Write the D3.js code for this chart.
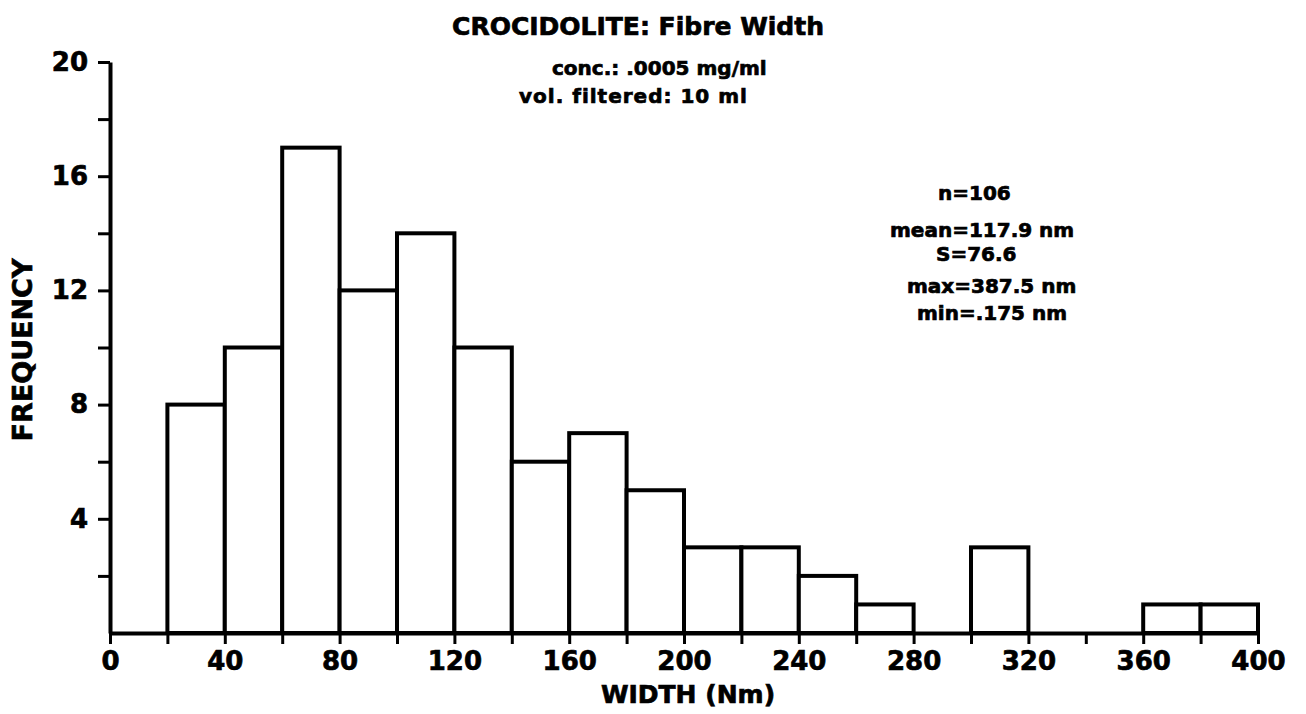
<!DOCTYPE html>
<html>
<head>
<meta charset="utf-8">
<script src="https://cdnjs.cloudflare.com/ajax/libs/d3/7.8.5/d3.min.js"></script>
<style>
  body { margin: 0; background: #fff; }
  /* scanned original is heavier than the font, so a thin stroke thickens it */
  svg text { font-family: "DejaVu Sans", "Liberation Sans", Arial, sans-serif; font-weight: bold; fill: #000; stroke: #000; stroke-width: 0.7px; }
</style>
</head>
<body>
<div class="visualization"></div>
<script>
  'use strict';

  // bin edges (nm) and counts
  var binStarts = [20, 40, 60, 80, 100, 120, 140, 160, 180, 200, 220, 240, 260, 280, 300, 320, 340, 360, 380];
  var binWidth = 20;
  var counts = [8, 10, 17, 12, 14, 10, 6, 7, 5, 3, 3, 2, 1, 0, 3, 0, 0, 1, 1];

  var xTicks = [0, 20, 40, 60, 80, 100, 120, 140, 160, 180, 200, 220, 240, 260, 280, 300, 320, 340, 360, 380, 400];
  var xTickLabels = [0, 40, 80, 120, 160, 200, 240, 280, 320, 360, 400];
  var yTicks = [2, 4, 6, 8, 10, 12, 14, 16, 18, 20];
  var yTickLabels = [4, 8, 12, 16, 20];

  var titleText = 'CROCIDOLITE: Fibre Width';
  var noteLines = ['conc.: .0005 mg/ml', 'vol. filtered: 10 ml'];
  var statLines = ['n=106', 'mean=117.9 nm', 'S=76.6', 'max=387.5 nm', 'min=.175 nm'];

  var width = 1306,
      height = 714;

  var svg = d3.select('.visualization')
    .append('svg')
    .attr('width', width)
    .attr('height', height);

  var x = d3.scaleLinear().domain([0, 400]).range([110, 1258]);
  var y = d3.scaleLinear().domain([0, 20]).range([633, 62]);

  var bins = binStarts.map(function(s, i) { return { x0: s, x1: s + binWidth, n: counts[i] }; })
    .filter(function(d) { return d.n > 0; });

  // bars first, axes on top
  svg.append('g').selectAll('rect')
    .data(bins)
    .enter().append('rect')
    .attr('x', function(d) { return x(d.x0); })
    .attr('y', function(d) { return y(d.n); })
    .attr('width', function(d) { return x(d.x1) - x(d.x0); })
    .attr('height', function(d) { return y(0) - y(d.n); })
    .attr('fill', 'white')
    .attr('stroke', 'black')
    .attr('stroke-width', 4);

  var xAxis = d3.axisBottom(x)
    .tickValues(xTicks)
    .tickSize(11)
    .tickSizeOuter(0)
    .tickPadding(8)
    .tickFormat(function(d) { return xTickLabels.indexOf(d) > -1 ? d : ''; });

  var yAxis = d3.axisLeft(y)
    .tickValues(yTicks)
    .tickSize(12)
    .tickSizeOuter(0)
    .tickPadding(10)
    .tickFormat(function(d) { return yTickLabels.indexOf(d) > -1 ? d : ''; });

  var gx = svg.append('g')
    .attr('transform', 'translate(0,' + y(0) + ')')
    .call(xAxis);

  var gy = svg.append('g')
    .attr('transform', 'translate(' + x(0) + ',0)')
    .call(yAxis);

  [gx, gy].forEach(function(g) {
    g.select('.domain').attr('stroke', 'black').attr('stroke-width', 4);
    g.selectAll('.tick line').attr('stroke', 'black').attr('stroke-width', 3);
    g.selectAll('.tick text')
      .attr('font-family', null)
      .attr('font-size', null)
      .style('font-size', '26px');
  });

  // titles / notes
  svg.append('text')
    .attr('x', 638).attr('y', 35)
    .attr('text-anchor', 'middle')
    .style('font-size', '25px')
    .text(titleText);

  var notePos = [[552, 75], [519, 103]];
  svg.selectAll('.note')
    .data(noteLines)
    .enter().append('text')
    .attr('class', 'note')
    .attr('x', function(d, i) { return notePos[i][0]; })
    .attr('y', function(d, i) { return notePos[i][1]; })
    .style('font-size', '20px')
    .style('letter-spacing', function(d, i) { return i === 1 ? '1px' : '0px'; })
    .text(function(d) { return d; });

  var statPos = [[938, 200], [890, 237], [936, 261], [907, 293], [917, 320]];
  svg.selectAll('.stat')
    .data(statLines)
    .enter().append('text')
    .attr('class', 'stat')
    .attr('x', function(d, i) { return statPos[i][0]; })
    .attr('y', function(d, i) { return statPos[i][1]; })
    .style('font-size', '20px')
    .text(function(d) { return d; });

  // axis labels
  svg.append('text')
    .attr('x', 688).attr('y', 703)
    .attr('text-anchor', 'middle')
    .style('font-size', '25px')
    .text('WIDTH (Nm)');

  svg.append('text')
    .attr('transform', 'translate(32,350) rotate(-90)')
    .attr('text-anchor', 'middle')
    .style('font-size', '27px')
    .text('FREQUENCY');
</script>
</body>
</html>
